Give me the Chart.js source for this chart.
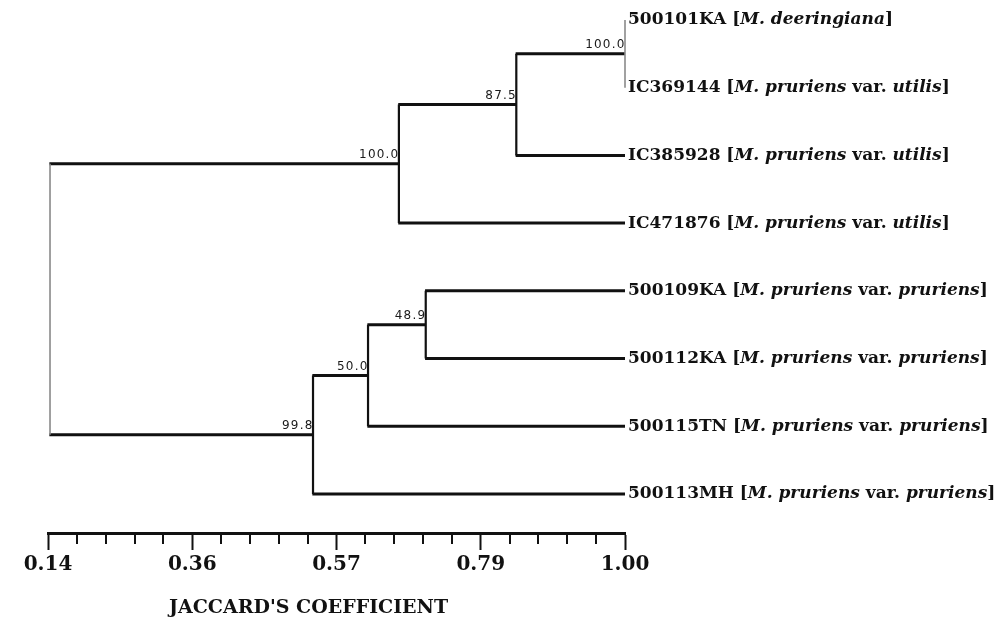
<!DOCTYPE html>
<html>
<head>
<meta charset="utf-8">
<script src="https://cdn.jsdelivr.net/npm/chart.js@4.4.0/dist/chart.umd.min.js"></script>
<style>
  html, body { margin: 0; padding: 0; background: #fff; }
</style>
</head>
<body>
<canvas id="dendro" width="1006" height="619"></canvas>
<script>
// Leaves, top to bottom
const leafIds = ['500101KA', 'IC369144', 'IC385928', 'IC471876', '500109KA', '500112KA', '500115TN', '500113MH'];
const leafTaxa = [
  'M. deeringiana',
  'M. pruriens var. utilis',
  'M. pruriens var. utilis',
  'M. pruriens var. utilis',
  'M. pruriens var. pruriens',
  'M. pruriens var. pruriens',
  'M. pruriens var. pruriens',
  'M. pruriens var. pruriens',
];

// Internal nodes: children (leaf index or node id), merge level, bootstrap support
const nodeIds = ['A', 'B', 'C', 'D', 'E', 'F', 'R'];
const nodeChildren = [[0, 1], ['A', 2], ['B', 3], [4, 5], ['D', 6], ['E', 7], ['C', 'F']];
const nodeHeights = [1.00, 0.838, 0.663, 0.703, 0.617, 0.535, 0.143];
const nodeSupport = [100.0, 87.5, 100.0, 48.9, 50.0, 99.8, null];

const axisMin = 0.14;
const axisMax = 1.00;
const majorTickLabels = ['0.14', '0.36', '0.57', '0.79', '1.00'];
const minorSteps = 5; // intervals between labelled ticks
const axisTitle = "JACCARD'S COEFFICIENT";

const INK = '#111';
const tickValues = [];
const nTicks = (majorTickLabels.length - 1) * minorSteps;
for (let i = 0; i <= nTicks; i++) tickValues.push(axisMin + (axisMax - axisMin) * i / nTicks);

// node positions in data space
const pos = {};
leafIds.forEach((id, i) => { pos[i] = { x: axisMax, y: i }; });
nodeIds.forEach((id, k) => {
  const ys = nodeChildren[k].map(c => pos[c].y);
  pos[id] = { x: nodeHeights[k], y: (ys[0] + ys[1]) / 2 };
});

const datasets = [];
nodeIds.forEach((id, k) => {
  const p = pos[id];
  const kids = nodeChildren[k].map(c => pos[c]);
  const thin = id === 'R' || id === 'A';
  datasets.push({
    data: [{ x: p.x, y: kids[0].y }, { x: p.x, y: kids[1].y }],
    borderColor: thin ? '#8a8a8a' : INK,
    borderWidth: thin ? 1.6 : 2.2,
  });
  kids.forEach(ch => {
    if (ch.x > p.x) {
      datasets.push({ data: [{ x: p.x - 0.001, y: ch.y }, { x: ch.x, y: ch.y }], borderColor: INK, borderWidth: 3 });
    }
  });
});
datasets.forEach(d => Object.assign(d, { showLine: true, pointRadius: 0, fill: false, tension: 0, clip: false }));

function labelSegments(id, taxon) {
  const parts = taxon.split(' var. ');
  const out = [{ t: id + ' [', it: false }, { t: parts[0], it: true }];
  if (parts[1]) {
    out.push({ t: ' var. ', it: false });
    out.push({ t: parts[1], it: true });
  }
  out.push({ t: ']', it: false });
  return out;
}

const treeText = {
  id: 'treeText',
  afterDraw(chart) {
    const { ctx, scales: { x, y } } = chart;
    ctx.save();

    // minor ticks on the coefficient axis
    ctx.strokeStyle = INK;
    ctx.lineWidth = 2;
    tickValues.forEach((v, i) => {
      if (i % minorSteps === 0) return;
      const px = Math.round(x.getPixelForValue(v));
      ctx.beginPath();
      ctx.moveTo(px, x.top);
      ctx.lineTo(px, x.top + 11);
      ctx.stroke();
    });

    // axis title (sits a little left of the axis centre in the original)
    ctx.fillStyle = INK;
    ctx.font = 'bold 19px "DejaVu Serif"';
    ctx.textAlign = 'center';
    ctx.textBaseline = 'middle';
    ctx.fillText(axisTitle, (x.left + x.right) / 2 - 28, x.top + 75);

    // leaf labels
    ctx.textAlign = 'left';
    leafIds.forEach((id, i) => {
      let px = x.getPixelForValue(axisMax) + 3;
      const py = y.getPixelForValue(i);
      labelSegments(id, leafTaxa[i]).forEach(s => {
        ctx.font = (s.it ? 'italic ' : '') + 'bold 17px "DejaVu Serif"';
        ctx.fillText(s.t, px, py);
        px += ctx.measureText(s.t).width;
      });
    });

    // bootstrap support
    ctx.font = '500 12px "DejaVu Sans"';
    ctx.letterSpacing = '1.2px';
    ctx.fillStyle = '#1a1a1a';
    ctx.textAlign = 'right';
    ctx.textBaseline = 'bottom';
    nodeIds.forEach((id, k) => {
      if (nodeSupport[k] == null) return;
      const p = pos[id];
      ctx.fillText(nodeSupport[k].toFixed(1), x.getPixelForValue(p.x) + 0.5, y.getPixelForValue(p.y) - 3);
    });
    ctx.restore();
  }
};

new Chart(document.getElementById('dendro'), {
  type: 'scatter',
  data: { datasets },
  options: {
    responsive: false,
    animation: false,
    events: [],
    layout: { padding: { left: 48, right: 381, top: 3, bottom: 39 } },
    plugins: { legend: { display: false }, tooltip: { enabled: false } },
    scales: {
      x: {
        type: 'linear',
        min: axisMin,
        max: axisMax,
        afterBuildTicks: s => { s.ticks = tickValues.map(v => ({ value: v })); },
        ticks: {
          autoSkip: false,
          maxRotation: 0,
          padding: 3,
          color: INK,
          font: { family: 'DejaVu Serif', weight: 'bold', size: 20 },
          callback: (v, i) => (i % minorSteps === 0 ? majorTickLabels[i / minorSteps] : ''),
        },
        grid: {
          drawOnChartArea: false,
          drawTicks: true,
          tickLength: 17,
          tickWidth: 2,
          tickColor: c => (c.index % minorSteps === 0 ? INK : 'rgba(0,0,0,0)'),
        },
        border: { display: true, color: INK, width: 3 },
        title: { display: false },
      },
      y: {
        type: 'linear',
        display: false,
        reverse: true,
        min: -0.25,
        max: 7.576,
      },
    },
  },
  plugins: [treeText],
});
</script>
</body>
</html>
